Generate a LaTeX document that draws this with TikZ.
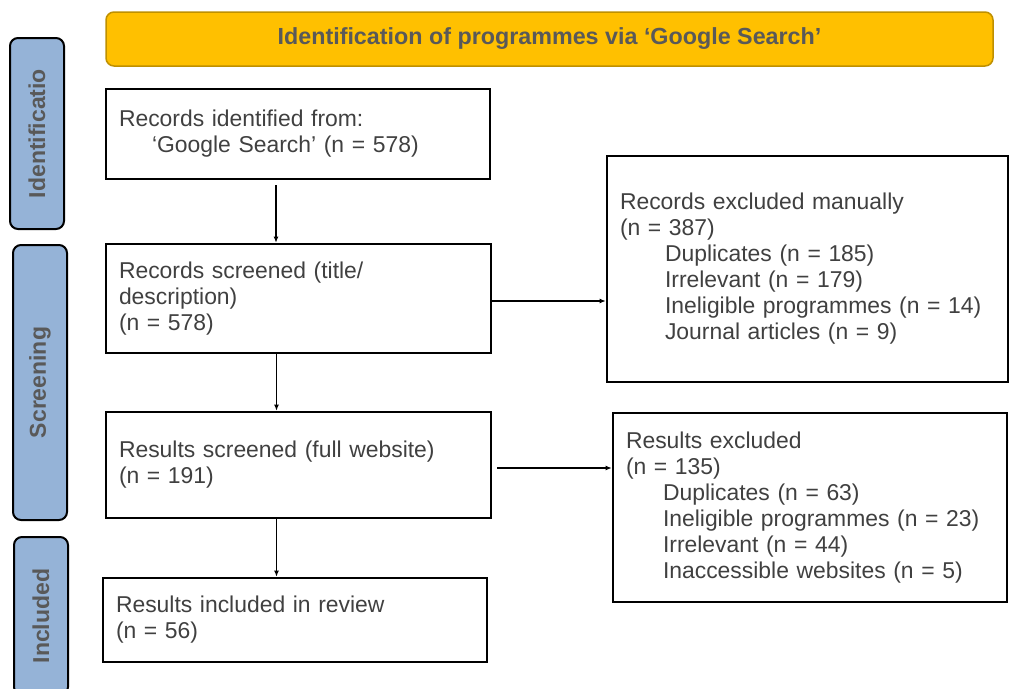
\documentclass[tikz,border=0pt]{standalone}
\usepackage{fontspec}
\setmainfont{Liberation Sans}
\usepackage{tikz}
\usetikzlibrary{positioning}
\usetikzlibrary{arrows.meta}
\definecolor{bannerfill}{HTML}{FFC000}
\definecolor{bannerline}{HTML}{BF9000}
\definecolor{sidefill}{HTML}{95B3D7}
\definecolor{txtgray}{HTML}{404040}
\definecolor{headgray}{HTML}{595959}
\tikzset{
  flowbox/.style = {draw, line width = 2.6pt, align = left, text = txtgray,
    inner xsep = 13pt, font = \fontsize{22.9}{26}\selectfont},
  sidebox/.style = {draw, line width = 2pt, rounded corners = 8pt, fill = sidefill,
    rotate = 90, minimum height = 54pt, text = headgray,
    font = \fontsize{23}{26}\selectfont\bfseries},
  flowarrow/.style = {line width = 1.4pt, -{Latex[length = 6pt, width = 5pt]}},
}

\begin{document}
\begin{tikzpicture}[x = 1pt, y = -1pt]
    \useasboundingbox (0, 0) rectangle (1011, 688);

    \node [draw = bannerline, line width = 1.5pt, fill = bannerfill, rounded corners = 8pt,
      minimum width = 887pt, minimum height = 54pt, text = headgray,
      font = \fontsize{23.3}{26}\selectfont\bfseries] (banner) at (549.5, 39)
      {Identification of programmes via ‘Google Search’};

    % side labels
    \node [sidebox, minimum width = 191pt] (sideid) at (37, 133.5) {Identificatio};
    \node [sidebox, minimum width = 275pt] (sidescr) at (40, 382.5) {Screening};
    \node [sidebox, minimum width = 158pt] (sideinc) at (41, 616) {Included};

    % main column
    \node [flowbox, text width = 358pt, minimum height = 90pt] (ident) at (298, 134)
      {Records identified from:\\\hspace*{33pt}‘Google Search’ (n = 578)};
    \node [flowbox, text width = 359pt, minimum height = 109pt] (screen) at (298.5, 298.5)
      {Records screened (title/\\description)\\(n = 578)};
    \node [flowbox, text width = 359pt, minimum height = 106pt] (resscr) at (298.5, 465)
      {Results screened (full website)\\(n = 191)};
    \node [flowbox, text width = 358pt, minimum height = 84pt] (incl) at (295, 620)
      {Results included in review\\(n = 56)};

    % exclusions
    \node [flowbox, text width = 375pt, minimum height = 226pt] (exclrec) at (807.5, 269)
      {Records excluded manually\\(n = 387)\\
       \hspace*{45pt}Duplicates (n = 185)\\
       \hspace*{45pt}Irrelevant (n = 179)\\
       \hspace*{45pt}Ineligible programmes (n = 14)\\
       \hspace*{45pt}Journal articles (n = 9)};
    \node [flowbox, text width = 368pt, minimum height = 189pt] (exclres) at (810, 507.5)
      {Results excluded\\(n = 135)\\
       \hspace*{37pt}Duplicates (n = 63)\\
       \hspace*{37pt}Ineligible programmes (n = 23)\\
       \hspace*{37pt}Irrelevant (n = 44)\\
       \hspace*{37pt}Inaccessible websites (n = 5)};

    % arrows
    \draw [flowarrow] ([xshift = -22pt, yshift = -5pt]ident.south) -- ([xshift = -22pt]ident.south |- screen.north);
    \draw [flowarrow] ([xshift = -22pt]screen.south) -- ([xshift = -22pt]screen.south |- resscr.north);
    \draw [flowarrow] ([xshift = -22pt]resscr.south) -- ([xshift = -22pt]resscr.south |- incl.north);
    \draw [flowarrow] ([yshift = -2.5pt]screen.east) -- ([yshift = -2.5pt]screen.east -| exclrec.west);
    \draw [flowarrow] ([xshift = 5pt, yshift = -3pt]resscr.east) -- ([yshift = -3pt]resscr.east -| exclres.west);
\end{tikzpicture}
\end{document}
